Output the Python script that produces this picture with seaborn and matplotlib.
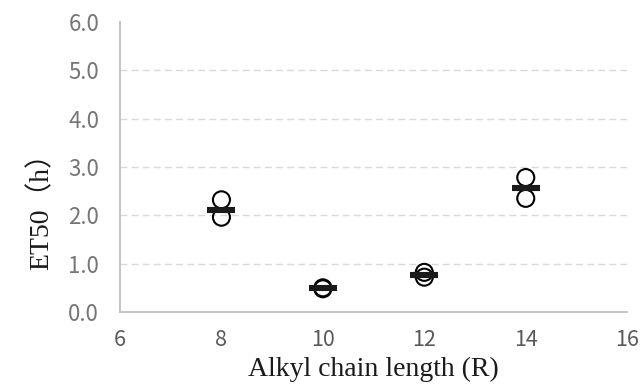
import matplotlib
matplotlib.use("Agg")
import matplotlib.pyplot as plt
import pandas as pd
import seaborn as sns

chain_length = [8, 8, 10, 10, 12, 12, 14, 14]
et50 = [2.32, 1.96, 0.48, 0.5, 0.82, 0.72, 2.78, 2.35]

# mean values (horizontal bars)
mean_length = [8, 10, 12, 14]
mean_et50 = [2.1, 0.49, 0.76, 2.56]

pts = pd.DataFrame({"R": chain_length, "ET50": et50})
means = pd.DataFrame({"R": mean_length, "ET50": mean_et50})

sns.set_style("white")
fig = plt.figure(figsize=(6.4, 3.9), dpi=100)
ax = fig.add_axes([0.1875, 0.2, 0.7925, 0.744])

sns.scatterplot(data=pts, x="R", y="ET50", ax=ax, marker="o", s=150,
                facecolor="none", edgecolor="black", linewidth=1.5, zorder=3)
sns.scatterplot(data=means, x="R", y="ET50", ax=ax, marker="_", s=410,
                color="#1a1a1a", linewidth=4.4, zorder=4)

ax.set_xlim(6, 16)
ax.set_ylim(0, 6)
ax.set_xticks([6, 8, 10, 12, 14, 16])
ax.set_yticks([0, 1, 2, 3, 4, 5, 6])
ax.set_yticklabels([f"{v:.1f}" for v in range(7)])

ax.yaxis.grid(True, color="#d9d9d9", linestyle=(0, (5, 3)), linewidth=1)
ax.get_ygridlines()[-1].set_visible(False)
ax.get_ygridlines()[0].set_visible(False)

for s in ["top", "right"]:
    ax.spines[s].set_visible(False)
for s in ["left", "bottom"]:
    ax.spines[s].set_color("#bfbfbf")
    ax.spines[s].set_linewidth(1.3)

ax.tick_params(axis="y", colors="#bfbfbf", labelcolor="#767676",
               labelsize=16, length=6, width=1, direction="out", pad=9)
ax.tick_params(axis="x", colors="#bfbfbf", labelcolor="#595959",
               labelsize=15.5, length=5, width=1, direction="out", pad=7)
for lab in ax.get_xticklabels() + ax.get_yticklabels():
    lab.set_family(["Noto Sans CJK JP", "DejaVu Sans"])

ax.set_xlabel("Alkyl chain length (R)", family=["Liberation Serif", "Noto Sans CJK JP"],
              fontsize=20, color="#1a1a1a")
ax.set_ylabel("ET50（h）", family=["Liberation Serif", "Noto Sans CJK JP"],
              fontsize=20, color="#1a1a1a")
ax.xaxis.set_label_coords(0.5, -0.155)
ax.yaxis.set_label_coords(-0.13, 0.37)

fig.savefig("out.png", dpi=100)
